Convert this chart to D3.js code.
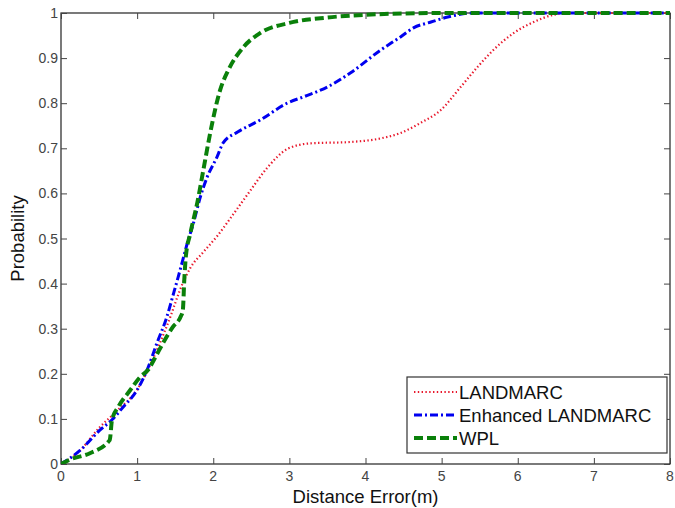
<!DOCTYPE html>
<html>
<head>
<meta charset="utf-8">
<script src="https://d3js.org/d3.v7.min.js"></script>
<style>
  body { margin: 0; background: #fff; }
  text { font-family: "Liberation Sans", Arial, sans-serif; }
</style>
</head>
<body>
<script>
// values (distance error in m, cumulative probability)
let seriesNames = ["LANDMARC", "Enhanced LANDMARC", "WPL"];

let landmarcX = [0, 0.25, 0.5, 0.75, 1.0, 1.2, 1.4, 1.61, 1.7, 1.87, 2.05, 2.26, 2.49, 2.71, 2.99, 3.28, 3.8, 4.2, 4.46, 4.72, 4.99, 5.25, 5.47, 5.68, 5.95, 6.21, 6.47, 6.7, 8];
let landmarcY = [0, 0.03, 0.08, 0.12, 0.165, 0.23, 0.31, 0.405, 0.435, 0.47, 0.505, 0.553, 0.607, 0.657, 0.7, 0.711, 0.714, 0.722, 0.734, 0.756, 0.785, 0.836, 0.88, 0.918, 0.956, 0.98, 0.996, 1, 1];

let enhancedX = [0, 0.25, 0.51, 0.67, 0.82, 1.0, 1.13, 1.26, 1.39, 1.48, 1.54, 1.62, 1.66, 1.74, 1.83, 1.92, 2.05, 2.13, 2.32, 2.62, 2.97, 3.2, 3.5, 3.8, 4.2, 4.46, 4.63, 4.86, 5.08, 5.42, 8];
let enhancedY = [0, 0.03, 0.075, 0.098, 0.127, 0.164, 0.208, 0.268, 0.326, 0.379, 0.415, 0.465, 0.49, 0.534, 0.592, 0.636, 0.681, 0.712, 0.736, 0.763, 0.8, 0.815, 0.836, 0.867, 0.918, 0.947, 0.967, 0.98, 0.991, 1, 1];

let wplX = [0, 0.12, 0.38, 0.64, 0.67, 0.75, 0.91, 1.04, 1.15, 1.24, 1.34, 1.47, 1.57, 1.6, 1.62, 1.64, 1.7, 1.79, 1.87, 1.96, 2.09, 2.2, 2.4, 2.62, 3.0, 3.5, 4.0, 4.5, 5, 8];
let wplY = [0, 0.01, 0.024, 0.053, 0.098, 0.126, 0.164, 0.193, 0.21, 0.237, 0.268, 0.304, 0.326, 0.34, 0.41, 0.46, 0.512, 0.579, 0.652, 0.734, 0.829, 0.874, 0.925, 0.956, 0.978, 0.99, 0.996, 0.999, 1, 1];

let xTicks = [0, 1, 2, 3, 4, 5, 6, 7, 8];
let yTicks = [0, 0.1, 0.2, 0.3, 0.4, 0.5, 0.6, 0.7, 0.8, 0.9, 1];

let canvasW = 675, canvasH = 508;
let mLeft = 61, mRight = 670, mTop = 13, mBottom = 464;

let svg = d3.select("body").append("svg")
  .attr("width", canvasW)
  .attr("height", canvasH);

let x = d3.scaleLinear().domain([0, 8]).range([mLeft, mRight]);
let y = d3.scaleLinear().domain([0, 1]).range([mBottom, mTop]);

// axes box with inward ticks (matlab style)
svg.append("rect")
  .attr("x", mLeft).attr("y", mTop)
  .attr("width", mRight - mLeft).attr("height", mBottom - mTop)
  .attr("fill", "none").attr("stroke", "#222").attr("stroke-width", 1.2);

let fmt = d => d === 0 || d === 1 ? String(d) : d3.format(".1f")(d);

svg.append("g")
  .attr("transform", `translate(0,${mBottom})`)
  .call(d3.axisTop(x).tickValues(xTicks).tickSize(6).tickFormat(""))
  .call(g => g.select(".domain").remove());
svg.append("g")
  .attr("transform", `translate(0,${mTop})`)
  .call(d3.axisBottom(x).tickValues(xTicks).tickSize(6).tickFormat(""))
  .call(g => g.select(".domain").remove());
svg.append("g")
  .attr("transform", `translate(${mLeft},0)`)
  .call(d3.axisRight(y).tickValues(yTicks).tickSize(6).tickFormat(""))
  .call(g => g.select(".domain").remove());
svg.append("g")
  .attr("transform", `translate(${mRight},0)`)
  .call(d3.axisLeft(y).tickValues(yTicks).tickSize(6).tickFormat(""))
  .call(g => g.select(".domain").remove());
svg.selectAll(".tick line").attr("stroke", "#444");

// tick labels
svg.append("g").selectAll("text")
  .data(xTicks).enter().append("text")
  .attr("x", d => x(d))
  .attr("y", mBottom + 17)
  .attr("text-anchor", "middle")
  .attr("font-size", "14px")
  .attr("fill", "#444")
  .text(d => d);

svg.append("g").selectAll("text")
  .data(yTicks).enter().append("text")
  .attr("x", mLeft - 3)
  .attr("y", d => y(d) + 5)
  .attr("text-anchor", "end")
  .attr("font-size", "14px")
  .attr("fill", "#444")
  .text(fmt);

// axis titles
svg.append("text")
  .attr("x", (mLeft + mRight) / 2)
  .attr("y", 503)
  .attr("text-anchor", "middle")
  .attr("font-size", "18.5px")
  .attr("fill", "#111")
  .text("Distance Error(m)");

svg.append("text")
  .attr("transform", `translate(24,${(mTop + mBottom) / 2}) rotate(-90)`)
  .attr("text-anchor", "middle")
  .attr("font-size", "18.5px")
  .attr("fill", "#111")
  .text("Probability");

let styles = [
  { color: "#e8182c", width: 2.2, dash: "1.4,2.4" },
  { color: "#0000f0", width: 3, dash: "8,3,2,3" },
  { color: "#0a800a", width: 4, dash: "9,4" }
];

let series = [
  d3.zip(landmarcX, landmarcY),
  d3.zip(enhancedX, enhancedY),
  d3.zip(wplX, wplY)
];

let line = d3.line()
  .x(d => x(d[0]))
  .y(d => y(d[1]))
  .curve(d3.curveMonotoneX);

svg.append("defs").append("clipPath").attr("id", "plot")
  .append("rect").attr("x", mLeft).attr("y", mTop - 2)
  .attr("width", mRight - mLeft).attr("height", mBottom - mTop + 2);

// draw in order so green ends on top
series.forEach((s, i) => {
  svg.append("path")
    .datum(s)
    .attr("clip-path", "url(#plot)")
    .attr("fill", "none")
    .attr("stroke", styles[i].color)
    .attr("stroke-width", styles[i].width)
    .attr("stroke-dasharray", styles[i].dash)
    .attr("d", line);
});

// legend
let lx = 407, ly = 377;
svg.append("rect")
  .attr("x", lx).attr("y", ly)
  .attr("width", 260).attr("height", 76)
  .attr("fill", "#fff").attr("stroke", "#333").attr("stroke-width", 1.2);

seriesNames.forEach((name, i) => {
  let cy = ly + 15 + i * 23;
  svg.append("line")
    .attr("x1", lx + 7).attr("x2", lx + 50)
    .attr("y1", cy).attr("y2", cy)
    .attr("stroke", styles[i].color)
    .attr("stroke-width", styles[i].width)
    .attr("stroke-dasharray", styles[i].dash);
  svg.append("text")
    .attr("x", lx + 52)
    .attr("y", cy + 7)
    .attr("font-size", "18.5px")
    .attr("fill", "#111")
    .text(name);
});
</script>
</body>
</html>
